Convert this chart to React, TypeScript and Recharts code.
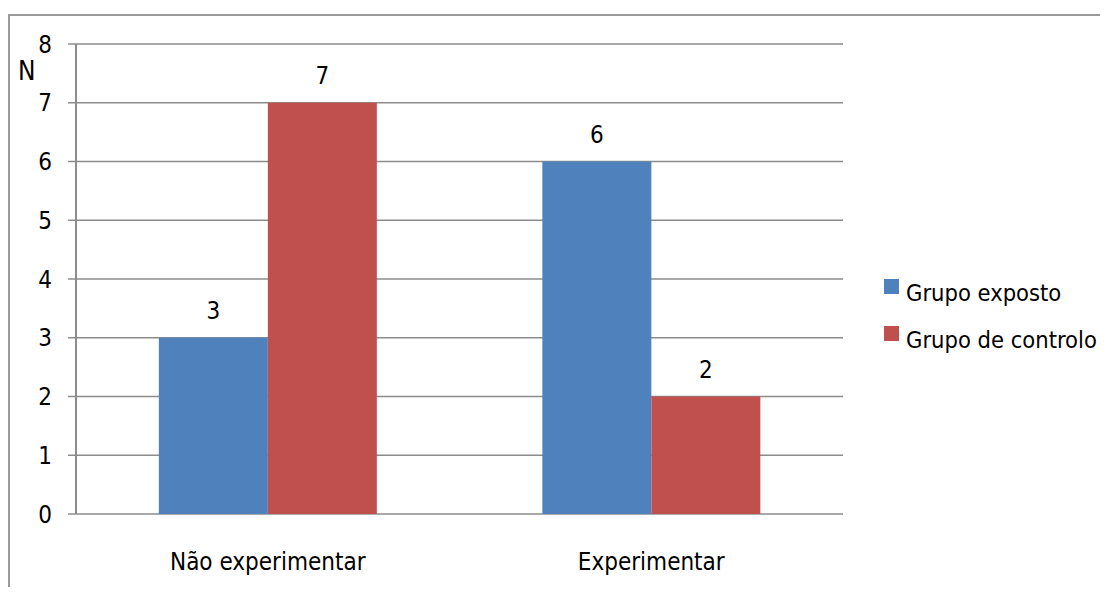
import React from 'react';
import {BarChart, Bar, XAxis, YAxis, CartesianGrid, Legend, LabelList, Label} from 'recharts';

const categories = ['Não experimentar', 'Experimentar'];
const exposto = [3, 6];
const controlo = [7, 2];
const yTicks = [0, 1, 2, 3, 4, 5, 6, 7, 8];
const edgeTicks = [0, 1, 2];

const BLUE = '#4F81BD';
const RED = '#C0504D';
const GRID = '#8C8C8C';
const FONT = '"DejaVu Sans Condensed", "Liberation Sans Narrow", sans-serif';
const SIZE = 24;

const data = categories.map((name, i) => ({name, exposto: exposto[i], controlo: controlo[i]}));

const LegendBox = () => (
    <div style={{fontFamily: FONT, fontSize: 23.5, color: '#000'}}>
        {[['Grupo exposto', BLUE], ['Grupo de controlo', RED]].map(([label, color]) => (
            <div key={label} style={{display: 'flex', alignItems: 'flex-start', height: 47}}>
                <span style={{width: 15, height: 15, background: color, marginRight: 7, marginTop: 6, flex: 'none'}} />
                <span style={{whiteSpace: 'nowrap', paddingTop: 6}}>{label}</span>
            </div>
        ))}
    </div>
);

const App: React.FC = () => {
    return (
        <div style={{position: 'relative', width: 1108, height: 595, margin: -8, overflow: 'hidden', background: '#fff'}}>
            <div style={{position: 'absolute', left: 8, top: 14, width: 1300, height: 800, border: '2px solid #999', boxSizing: 'border-box'}} />
            <BarChart
                width={1108}
                height={595}
                data={data}
                margin={{top: 44, right: 265, left: 0, bottom: 0}}
                barCategoryGap="21.6%"
                barGap={0}
                style={{position: 'absolute', left: 0, top: 0, fontFamily: FONT}}
            >
                <CartesianGrid vertical={false} stroke={GRID} strokeWidth={1.5} />
                {/* category boundary ticks along the bottom */}
                <XAxis
                    xAxisId="edges"
                    type="number"
                    dataKey={() => 0}
                    domain={[0, 2]}
                    ticks={edgeTicks}
                    height={0}
                    tickSize={8}
                    tick={() => <g />}
                    axisLine={{stroke: GRID, strokeWidth: 2}}
                    tickLine={{stroke: GRID, strokeWidth: 2}}
                />
                <XAxis
                    dataKey="name"
                    height={81}
                    axisLine={false}
                    tickLine={false}
                    tickSize={0}
                    tickMargin={39}
                    tick={{fill: '#000', fontSize: SIZE}}
                />
                <YAxis
                    width={76}
                    domain={[0, 8]}
                    ticks={yTicks}
                    interval={0}
                    tickSize={8}
                    tickMargin={16}
                    axisLine={{stroke: GRID, strokeWidth: 2}}
                    tickLine={{stroke: GRID, strokeWidth: 1.5}}
                    tick={{fill: '#000', fontSize: SIZE}}
                >
                    <Label value="N" position="insideTopLeft" offset={18} fill="#000" fontSize={26} />
                </YAxis>
                <Legend
                    layout="vertical"
                    align="center"
                    verticalAlign="middle"
                    content={<LegendBox />}
                    wrapperStyle={{position: 'absolute', left: 884, top: 273, width: 224}}
                />
                <Bar dataKey="exposto" name="Grupo exposto" fill={BLUE} isAnimationActive={false}>
                    <LabelList dataKey="exposto" position="top" offset={19} fill="#000" fontSize={SIZE} />
                </Bar>
                <Bar dataKey="controlo" name="Grupo de controlo" fill={RED} isAnimationActive={false}>
                    <LabelList dataKey="controlo" position="top" offset={19} fill="#000" fontSize={SIZE} />
                </Bar>
            </BarChart>
        </div>
    );
};

export default App;
